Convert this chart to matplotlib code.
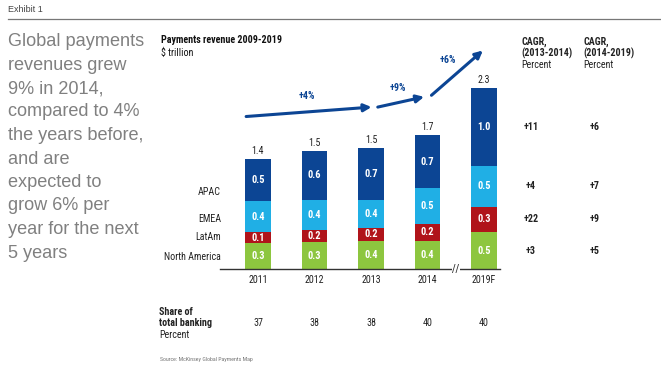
import matplotlib
matplotlib.use("Agg")
import matplotlib.pyplot as plt
import matplotlib.transforms as mtransforms
import numpy as np

years = ["2011", "2012", "2013", "2014", "2019F"]
regions = ["North America", "LatAm", "EMEA", "APAC"]
north_america = [0.33, 0.34, 0.36, 0.36, 0.47]
latam = [0.14, 0.16, 0.16, 0.21, 0.32]
emea = [0.39, 0.38, 0.36, 0.46, 0.52]
apac = [0.54, 0.62, 0.66, 0.67, 0.99]
share_of_banking = [37, 38, 38, 40, 40]
cagr_2013_2014 = [3, 22, 4, 11]   # same order as regions
cagr_2014_2019 = [5, 9, 7, 6]
growth = [4, 9, 6]

colors = ["#8DC63F", "#B0141A", "#20AFE5", "#0C4594"]
dark = "#0C4594"
narrow = ["Roboto Condensed", "Liberation Sans Narrow", "Roboto", "DejaVu Sans"]
fs = 7.2

W, H = 661, 368
fig = plt.figure(figsize=(W / 100, H / 100), dpi=100)


def fx(px):
    return px / W


def fy(py):
    return 1 - py / H


# chart axes: baseline at y=269px, 78.6 px per $ trillion, 56.5 px per bar
base_px, unit_px, step_px, x0_px = 269, 78.6, 56.5, 258
ax = fig.add_axes([fx(220), fy(base_px), 280 / W, (base_px - 30) / H])
ax.set_xlim(-38 / step_px, 242 / step_px)
ax.set_ylim(0, (base_px - 30) / unit_px)
ax.patch.set_alpha(0)
for s in ["top", "right", "left"]:
    ax.spines[s].set_visible(False)
ax.spines["bottom"].set_color("#333333")
ax.spines["bottom"].set_linewidth(1)
ax.set_yticks([])

x = np.arange(len(years))
series = [north_america, latam, emea, apac]
bottom = np.zeros(len(years))
for vals, col in zip(series, colors):
    vals = np.array(vals)
    ax.bar(x, vals, 0.46, bottom=bottom, color=col, linewidth=0)
    for xi, b, v in zip(x, bottom, vals):
        ax.text(xi, b + v / 2, f"{v:.1f}", ha="center", va="center",
                color="white", fontsize=fs + 0.3, fontweight="bold", family=narrow)
    bottom = bottom + vals
totals = bottom.copy()
for xi, t in zip(x, totals):
    ax.text(xi, t + 0.04, f"{t:.1f}", ha="center", va="bottom",
            fontsize=fs, family=narrow, color="#222222")

ax.set_xticks(x)
ax.set_xticklabels(years, fontsize=fs, family=narrow, color="#222222")
ax.tick_params(axis="x", length=0, pad=4)
ax.text(3.5, 0, "//", ha="center", va="center", fontsize=7.5, color="#333333",
        bbox=dict(facecolor="white", edgecolor="none", pad=0.5))

# growth arrows
arrows = [((-0.21, 1.94), (2.01, 2.06), (0.86, 2.14)),
          ((2.12, 2.06), (2.94, 2.19), (2.48, 2.24)),
          ((3.07, 2.21), (3.98, 2.78), (3.36, 2.59))]
for g, (start, end, lab) in zip(growth, arrows):
    ax.annotate("", xy=end, xytext=start, annotation_clip=False,
                arrowprops=dict(arrowstyle="-|>", color=dark, lw=2.2,
                                mutation_scale=11, shrinkA=0, shrinkB=0))
    ax.text(lab[0], lab[1], f"+{g}%", ha="center", va="bottom", color=dark,
            fontsize=fs, fontweight="bold", family=narrow)

# segment names on the left
blend = mtransforms.blended_transform_factory(fig.transFigure, ax.transData)
label_y = [0.15, 0.41, 0.64, 0.98]
for name, ly in zip(regions, label_y):
    ax.text(fx(221), ly, name, transform=blend, ha="right", va="center",
            fontsize=fs, family=narrow, color="#222222")

# CAGR columns, aligned with the 2019F segments
seg_bottom = 0.0
centers = []
for vals in series:
    centers.append(seg_bottom + vals[-1] / 2)
    seg_bottom += vals[-1]
for c, a, b in zip(centers, cagr_2013_2014, cagr_2014_2019):
    ax.text(fx(531), c, f"+{a}", transform=blend, ha="center", va="center",
            fontsize=fs, fontweight="bold", family=narrow, color="#222222")
    ax.text(fx(595), c, f"+{b}", transform=blend, ha="center", va="center",
            fontsize=fs, fontweight="bold", family=narrow, color="#222222")
for xpx, period in [(521, "(2013-2014)"), (583, "(2014-2019)")]:
    fig.text(fx(xpx), fy(42), "CAGR,", ha="left", va="center", fontsize=fs,
             fontweight="bold", family=narrow, color="#222222")
    fig.text(fx(xpx), fy(53.5), period, ha="left", va="center", fontsize=fs,
             fontweight="bold", family=narrow, color="#222222")
    fig.text(fx(xpx), fy(65), "Percent", ha="left", va="center", fontsize=fs,
             family=narrow, color="#222222")

# share of total banking row
fig.text(fx(159), fy(312), "Share of", ha="left", va="center", fontsize=fs,
         fontweight="bold", family=narrow, color="#222222")
fig.text(fx(159), fy(323), "total banking", ha="left", va="center", fontsize=fs,
         fontweight="bold", family=narrow, color="#222222")
fig.text(fx(159), fy(335), "Percent", ha="left", va="center", fontsize=fs,
         family=narrow, color="#222222")
blend_x = mtransforms.blended_transform_factory(ax.transData, fig.transFigure)
for xi, s in zip(x, share_of_banking):
    ax.text(xi, fy(323), str(s), transform=blend_x, ha="center", va="center",
            fontsize=fs, family=narrow, color="#222222")

# titles and header
fig.text(fx(161), fy(40), "Payments revenue 2009-2019", ha="left", va="center",
         fontsize=fs, fontweight="bold", family=narrow, color="#111111")
fig.text(fx(161), fy(52.5), "$ trillion", ha="left", va="center",
         fontsize=fs, family=narrow, color="#111111")
fig.text(fx(8), fy(10), "Exhibit 1", ha="left", va="center", fontsize=6.5,
         family="Liberation Sans", color="#444444")
fig.add_artist(plt.Line2D([fx(8), 1], [fy(19), fy(19)], color="#777777", lw=0.9))

left_text = ("Global payments\nrevenues grew\n9% in 2014,\ncompared to 4%\n"
             "the years before,\nand are\nexpected to\ngrow 6% per\n"
             "year for the next\n5 years")
fig.text(fx(8), fy(33), left_text, ha="left", va="top", fontsize=13.1,
         family="Liberation Sans", color="#808080", linespacing=1.5)

fig.text(fx(160), fy(359), "Source: McKinsey Global Payments Map", ha="left",
         va="center", fontsize=4.2, family=narrow, color="#777777")

fig.savefig("out.png", dpi=100)
